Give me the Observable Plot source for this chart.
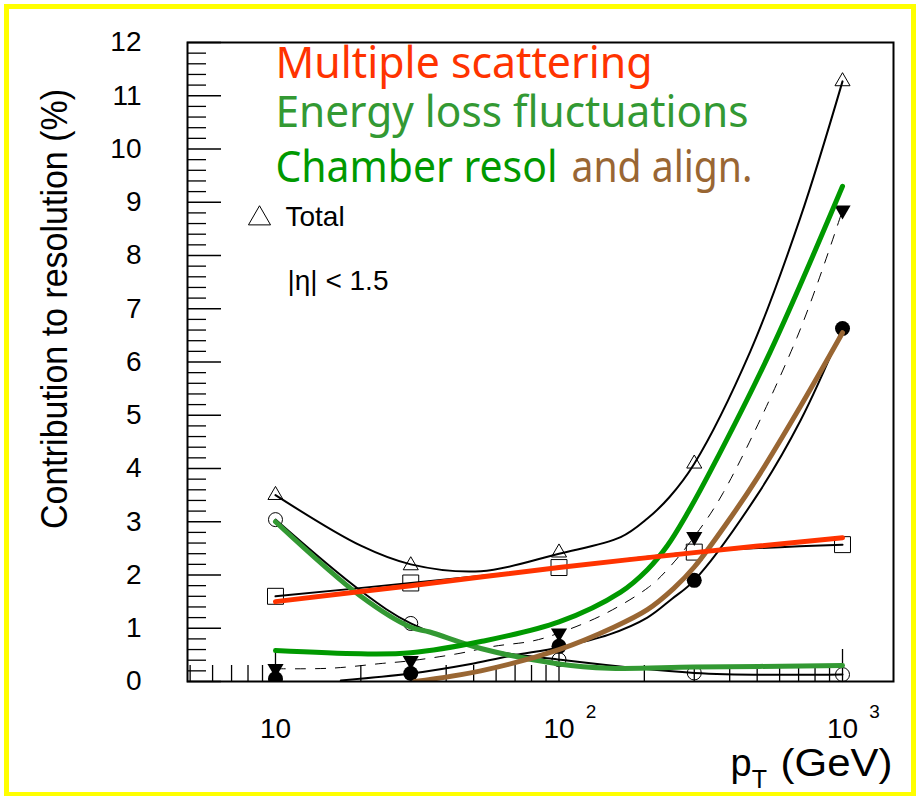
<!DOCTYPE html>
<html><head><meta charset="utf-8">
<script src="https://cdn.jsdelivr.net/npm/d3@7"></script>
<script src="https://cdn.jsdelivr.net/npm/@observablehq/plot@0.6"></script>
<style>
html,body{margin:0;padding:0;background:#fff;}
#wrap{position:relative;width:919px;height:796px;overflow:hidden;background:#fff;}
#border{position:absolute;left:4px;top:4px;width:902px;height:783px;border:5px solid #ffff00;pointer-events:none;}
#chart{position:absolute;left:0;top:0;}
</style></head>
<body><div id="wrap"><div id="chart"></div><div id="border"></div></div>
<script>
// ---- data ----
const pT = [10, 30, 100, 300, 1000];
const totalVals = [3.5, 2.18, 2.42, 4.09, 11.27];          // open triangles
const multScatVals = [1.6, 1.85, 2.14, 2.43, 2.57];        // open squares
const energyLossVals = [3.04, 1.09, 0.41, 0.16, 0.13];     // open circles
const chamberAlignVals = [0.24, 0.39, 0.91, 2.72, 8.85];   // filled down triangles (dashed)
const alignVals = [0.05, 0.15, 0.66, 1.9, 6.63];           // filled circles

// black fitted curves
const totalCurvePT  = [10, 20, 30, 53, 100, 165, 205, 245, 300, 473, 711, 1000];
const totalCurveV   = [3.5, 2.55, 2.2, 2.07, 2.4, 2.71, 3.06, 3.46, 4.09, 6.2, 8.72, 11.27];
const elossCurvePT  = [10, 20, 30, 53, 100, 300, 1000];
const elossCurveV   = [3.04, 1.7, 1.09, 0.62, 0.41, 0.16, 0.13];
const dashCurvePT   = [10, 15.7, 23.8, 30, 43.7, 58.8, 80.6, 100, 145, 207, 239, 300, 380, 692, 1000];
const dashCurveV    = [0.24, 0.25, 0.34, 0.39, 0.52, 0.66, 0.76, 0.91, 1.27, 1.77, 2.08, 2.72, 3.55, 6.47, 8.85];
const alignCurvePT  = [17, 30, 50, 69, 100, 150, 205, 250, 300, 500, 711, 1000];
const alignCurveV   = [0.02, 0.15, 0.34, 0.49, 0.64, 0.88, 1.2, 1.55, 1.9, 3.5, 4.9, 6.63];

// coloured hand-drawn curves
const redPT   = [10, 30, 100, 300, 1000];
const redV    = [1.5, 1.8, 2.14, 2.42, 2.7];
const lgreenPT = [10, 20, 30, 35, 53, 100, 150, 300, 1000];
const lgreenV  = [3.0, 1.6, 1.02, 0.93, 0.62, 0.33, 0.25, 0.27, 0.3];
const dgreenPT = [10, 20, 30, 53, 100, 165, 205, 241, 283, 342, 557, 1000];
const dgreenV  = [0.58, 0.52, 0.54, 0.75, 1.12, 1.68, 2.1, 2.55, 3.15, 3.95, 6.2, 9.3];
const brownPT = [31, 53, 100, 156, 205, 254, 300, 412, 500, 711, 1000];
const brownV  = [0, 0.2, 0.6, 1.02, 1.35, 1.75, 2.15, 3.15, 3.82, 5.17, 6.55];

// axes
const yMajor = d3.range(0, 13);
const yMinor = d3.range(0, 60).map(i => i / 5).filter(v => v % 1 !== 0);
const xMajor = [10, 100, 1000];
const xMinor = [5, 6, 7, 8, 9, 20, 30, 40, 50, 60, 70, 80, 90, 200, 300, 400, 500, 600, 700, 800, 900];
const xSup = [{x: 100, s: "2"}, {x: 1000, s: "3"}];

const legendLines = [
  {t: "Multiple scattering", c: "#ff3300", dx: 88, dy: 35, w: 377},
  {t: "Energy loss fluctuations", c: "#339933", dx: 88, dy: 84, w: 473},
  {t: "Chamber resol", c: "#009900", dx: 88, dy: 139, w: 282},
  {t: "and align.", c: "#996633", dx: 384, dy: 139, w: 181}
];
const fitWidths = {"Contribution to resolution (%)": 440, "(GeV)": 112};

const pts = (xs, ys) => xs.map((x, i) => ({x, y: ys[i]}));
const helv = "'Liberation Sans', Arial, Helvetica, sans-serif";
const curveStyle = {x: "x", y: "y", curve: "catmull-rom", clip: true};

const chart = Plot.plot({
  width: 919, height: 796,
  marginLeft: 187, marginRight: 26, marginTop: 42, marginBottom: 115,
  style: {background: "transparent", fontFamily: helv, overflow: "visible"},
  x: {type: "log", domain: [4.894, 1513], axis: null},
  y: {domain: [0, 12], axis: null},
  marks: [
    // ticks
    Plot.axisY(yMajor, {anchor: "left", tickSize: -34, fill: "none", label: null, stroke: "#000", strokeWidth: 1.3}),
    Plot.axisY(yMinor, {anchor: "left", tickSize: -19, fill: "none", label: null, stroke: "#000", strokeWidth: 1.3}),
    Plot.axisY(yMajor, {anchor: "left", tickSize: 0, tickPadding: 46, stroke: "none", label: null, fontSize: 28, fill: "#000", tickFormat: d => String(d)}),
    Plot.axisX(xMajor, {anchor: "bottom", tickSize: -32, fill: "none", label: null, stroke: "#000", strokeWidth: 1.3}),
    Plot.axisX(xMinor, {anchor: "bottom", tickSize: -16, fill: "none", label: null, stroke: "#000", strokeWidth: 1.3}),
    Plot.axisX(xMajor, {anchor: "bottom", tickSize: 0, tickPadding: 37, stroke: "none", label: null, fontSize: 28, fill: "#000", tickFormat: () => "10"}),
    Plot.text(xSup, {x: "x", text: "s", frameAnchor: "bottom", dx: 32, dy: 23, lineAnchor: "top", fontSize: 19, fill: "#000"}),
    // axis titles
    Plot.text(["Contribution to resolution (%)"], {frameAnchor: "left", dx: -132, dy: -53, rotate: -90, textAnchor: "middle", lineAnchor: "middle", fontSize: 36, fill: "#000"}),
    Plot.text(["(GeV)"], {frameAnchor: "bottom-right", dx: -1, dy: 94, textAnchor: "end", lineAnchor: "bottom", fontSize: 38, fill: "#000"}),
    Plot.text(["p"], {frameAnchor: "bottom-right", dx: -163, dy: 94, textAnchor: "start", lineAnchor: "bottom", fontSize: 38, fill: "#000"}),
    Plot.text(["T"], {frameAnchor: "bottom-right", dx: -134, dy: 106, textAnchor: "middle", lineAnchor: "bottom", fontSize: 25, fill: "#000"}),
    // black fitted curves
    Plot.line(pts(totalCurvePT, totalCurveV), {...curveStyle, stroke: "#000", strokeWidth: 2}),
    Plot.line(pts(pT, multScatVals), {...curveStyle, stroke: "#000", strokeWidth: 2}),
    Plot.line(pts(elossCurvePT, elossCurveV), {...curveStyle, stroke: "#000", strokeWidth: 2}),
    Plot.line(pts(dashCurvePT, dashCurveV), {...curveStyle, stroke: "#000", strokeWidth: 1, strokeDasharray: "10,10"}),
    Plot.line(pts(alignCurvePT, alignCurveV), {...curveStyle, stroke: "#000", strokeWidth: 2}),
    // markers
    Plot.dot(pts(pT, totalVals), {x: "x", y: "y", symbol: "triangle", r: 5.6, stroke: "#000", fill: "none", strokeWidth: 1}),
    Plot.dot(pts(pT, multScatVals), {x: "x", y: "y", symbol: "square", r: 9, stroke: "#000", fill: "none", strokeWidth: 1}),
    Plot.dot(pts(pT, energyLossVals), {x: "x", y: "y", symbol: "circle", r: 7, stroke: "#000", fill: "none", strokeWidth: 1}),
    Plot.dot(pts(pT, chamberAlignVals), {x: "x", y: "y", symbol: "triangle", rotate: 180, r: 6, fill: "#000", stroke: "none", clip: true}),
    Plot.dot(pts(pT, alignVals), {x: "x", y: "y", symbol: "circle", r: 7.5, fill: "#000", stroke: "none", clip: true}),
    // coloured curves
    Plot.line(pts(lgreenPT, lgreenV), {...curveStyle, stroke: "#339933", strokeWidth: 5}),
    Plot.line(pts(brownPT, brownV), {...curveStyle, stroke: "#996633", strokeWidth: 5}),
    Plot.line(pts(dgreenPT, dgreenV), {...curveStyle, stroke: "#009900", strokeWidth: 5}),
    Plot.line(pts(redPT, redV), {...curveStyle, stroke: "#ff3300", strokeWidth: 5}),
    // frame
    Plot.frame({stroke: "#000", strokeWidth: 2}),
    // legend texts
    Plot.text(legendLines, {text: "t", fill: "c", frameAnchor: "top-left", textAnchor: "start", lineAnchor: "bottom", fontSize: 43, fontFamily: "'Comic Sans MS', 'Noto Sans', sans-serif"}),
    Plot.dot([0], {frameAnchor: "top-left", dx: 72, dy: 176, symbol: "triangle", r: 8.2, stroke: "#000", fill: "none", strokeWidth: 1}),
    Plot.text(["Total"], {frameAnchor: "top-left", dx: 98, dy: 183, textAnchor: "start", lineAnchor: "bottom", fontSize: 28, fill: "#000"}),
    Plot.text(["|\u03b7| < 1.5"], {frameAnchor: "top-left", dx: 100, dy: 247, textAnchor: "start", lineAnchor: "bottom", fontSize: 28, fill: "#000"})
  ]
});
// per-line offsets and fitted widths for the text blocks
d3.select(chart).selectAll("text").each(function() {
  const t = this.textContent;
  const l = legendLines.find(d => d.t === t);
  if (l) {
    const cur = this.getAttribute("transform") || "";
    this.setAttribute("transform", cur + ` translate(${l.dx},${l.dy})`);
    this.setAttribute("textLength", l.w);
    this.setAttribute("lengthAdjust", "spacingAndGlyphs");
  } else if (fitWidths[t]) {
    this.setAttribute("textLength", fitWidths[t]);
    this.setAttribute("lengthAdjust", "spacingAndGlyphs");
  }
});
document.getElementById("chart").appendChild(chart);
</script>
</body></html>
